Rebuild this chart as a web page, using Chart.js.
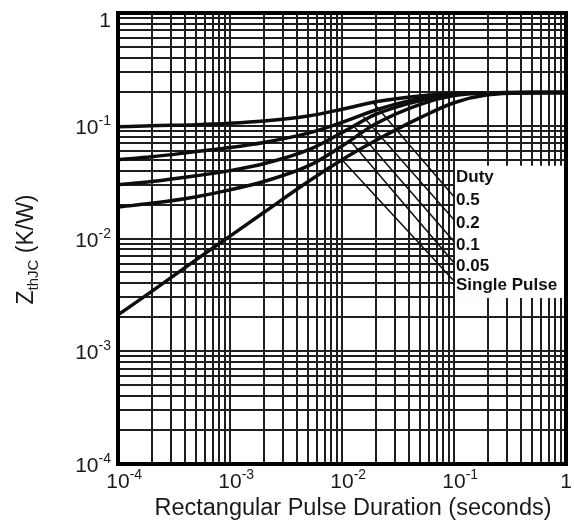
<!DOCTYPE html>
<html>
<head>
<meta charset="utf-8">
<script src="https://cdn.jsdelivr.net/npm/chart.js@4.4.1/dist/chart.umd.min.js"></script>
<style>
  html, body { margin: 0; padding: 0; background: #fff; }
  #wrap { width: 574px; height: 526px; }
</style>
</head>
<body>
<div id="wrap"><canvas id="zthChart"></canvas></div>
<script>
// 脉冲宽度 (s)
const pulseTimes = [1e-4, 2e-4, 5e-4, 1e-3, 2e-3, 5e-3, 1e-2, 2e-2, 5e-2, 1e-1, 2e-1, 5e-1, 1];

// Zth(JC) 各占空比曲线 (K/W)
const zthD05    = [0.098, 0.100, 0.102, 0.105, 0.110, 0.122, 0.140, 0.163, 0.184, 0.193, 0.196, 0.197, 0.197];
const zthD02    = [0.050, 0.053, 0.059, 0.064, 0.071, 0.086, 0.107, 0.138, 0.175, 0.191, 0.196, 0.197, 0.197];
const zthD01    = [0.030, 0.032, 0.036, 0.040, 0.046, 0.061, 0.087, 0.126, 0.167, 0.189, 0.196, 0.197, 0.197];
const zthD005   = [0.019, 0.0205, 0.0235, 0.027, 0.032, 0.044, 0.066, 0.104, 0.155, 0.185, 0.195, 0.197, 0.197];
const zthSingle = [0.0021, 0.0034, 0.0065, 0.0105, 0.017, 0.032, 0.050, 0.074, 0.118, 0.160, 0.188, 0.196, 0.197];

const legendTitle = 'Duty';
const dutyLabels = ['0.5', '0.2', '0.1', '0.05', 'Single Pulse'];

// 引线：曲线上的起点 → 标签旁的终点
const leaderStartX = [0.019, 0.0155, 0.013, 0.0118, 0.010];
const leaderStartY = [0.160, 0.120, 0.097, 0.074, 0.050];
const leaderEndX   = [0.1, 0.1, 0.1, 0.1, 0.1];
const leaderEndY   = [0.0235, 0.0147, 0.0094, 0.0061, 0.0042];

// 坐标轴刻度
const xDecades = [1e-4, 1e-3, 1e-2, 1e-1, 1];
const xTickExps = ['-4', '-3', '-2', '-1', ''];
const yDecades = [1e-4, 1e-3, 1e-2, 1e-1, 1];
const yTickExps = ['-4', '-3', '-2', '-1', ''];
const minorSteps = [1, 2, 3, 4, 5, 6, 7, 8, 9];

const xTitle = 'Rectangular Pulse Duration (seconds)';

const FONT = '"Liberation Sans", Arial, sans-serif';

function gridValues(decades) {
    const vals = [];
    for (let i = 0; i < decades.length - 1; i++) {
        minorSteps.forEach(m => vals.push(decades[i] * m));
    }
    vals.push(decades[decades.length - 1]);
    return vals;
}

function toPoints(xs, ys) {
    return xs.map((x, i) => ({ x: x, y: ys[i] }));
}

const curveSets = [zthD05, zthD02, zthD01, zthD005, zthSingle].map(vals => ({
    data: toPoints(pulseTimes, vals),
    borderColor: '#0d0d0d',
    borderWidth: 3.5,
    pointRadius: 0,
    cubicInterpolationMode: 'monotone',
    fill: false
}));

const leaderSets = leaderStartX.map((x0, i) => ({
    data: [{ x: x0, y: leaderStartY[i] }, { x: leaderEndX[i], y: leaderEndY[i] }],
    borderColor: '#0d0d0d',
    borderWidth: 1.5,
    pointRadius: 0,
    fill: false
}));

// 画 10^n 形式的刻度文字
function drawPower(ctx, x, baseline, exp, align) {
    const mainFont = '21px ' + FONT;
    const supFont = '14px ' + FONT;
    ctx.textBaseline = 'alphabetic';
    ctx.textAlign = 'left';
    if (!exp) {
        ctx.font = mainFont;
        const w = ctx.measureText('1').width;
        const left = align === 'center' ? x - w / 2 : x - w;
        ctx.fillText('1', left, baseline);
        return;
    }
    ctx.font = mainFont;
    const w10 = ctx.measureText('10').width;
    ctx.font = supFont;
    const wSup = ctx.measureText(exp).width;
    const left = align === 'center' ? x - w10 / 2 : x - w10 - wSup;
    ctx.font = mainFont;
    ctx.fillText('10', left, baseline);
    ctx.font = supFont;
    ctx.fillText(exp, left + w10, baseline - 9);
}

const legendPlugin = {
    id: 'dutyLegend',
    afterDatasetsDraw(chart) {
        const { ctx, scales } = chart;
        const xs = scales.x, ys = scales.y;
        const left = xs.getPixelForValue(leaderEndX[0]);
        const rows = leaderEndY.map(v => ys.getPixelForValue(v) + 4);
        const rowGap = rows[1] - rows[0];
        const titleY = rows[0] - rowGap;
        ctx.save();
        ctx.fillStyle = '#fff';
        ctx.fillRect(left + 1, titleY - 12, chart.chartArea.right - left - 3, rows[rows.length - 1] - titleY + 25);
        ctx.fillStyle = '#111';
        ctx.font = 'bold 17px ' + FONT;
        ctx.textAlign = 'left';
        ctx.textBaseline = 'middle';
        ctx.fillText(legendTitle, left + 2, titleY);
        dutyLabels.forEach((t, i) => ctx.fillText(t, left + 2, rows[i]));
        ctx.restore();
    },
    afterDraw(chart) {
        const { ctx, chartArea, scales } = chart;
        ctx.save();
        ctx.strokeStyle = '#000';
        ctx.lineWidth = 4;
        ctx.strokeRect(chartArea.left, chartArea.top, chartArea.right - chartArea.left, chartArea.bottom - chartArea.top);

        ctx.fillStyle = '#1a1a1a';
        xDecades.forEach((v, i) => {
            drawPower(ctx, scales.x.getPixelForValue(v), chartArea.bottom + 24, xTickExps[i], 'center');
        });
        yDecades.forEach((v, i) => {
            const py = scales.y.getPixelForValue(v);
            const base = Math.max(py + 8, 27);
            drawPower(ctx, chartArea.left - 7, base, yTickExps[i], 'right');
        });

        // x 轴标题
        ctx.font = '23.5px ' + FONT;
        ctx.textAlign = 'center';
        ctx.textBaseline = 'alphabetic';
        ctx.fillText(xTitle, (chartArea.left + chartArea.right) / 2 + 11, chartArea.bottom + 51);

        // y 轴标题 Z_thJC (K/W)
        const parts = [
            { t: 'Z', font: '23px ' + FONT, dy: 0 },
            { t: 'thJC', font: '15px ' + FONT, dy: 5 },
            { t: ' (K/W)', font: '23px ' + FONT, dy: 0 }
        ];
        let total = 0;
        parts.forEach(p => { ctx.font = p.font; p.w = ctx.measureText(p.t).width; total += p.w; });
        ctx.translate(33, (chartArea.top + chartArea.bottom) / 2 + 11);
        ctx.rotate(-Math.PI / 2);
        ctx.textAlign = 'left';
        let cx = -total / 2;
        parts.forEach(p => {
            ctx.font = p.font;
            ctx.fillText(p.t, cx, p.dy);
            cx += p.w;
        });
        ctx.restore();
    }
};

function logAxis(decades) {
    return {
        type: 'logarithmic',
        min: decades[0],
        max: decades[decades.length - 1],
        ticks: { display: false },
        grid: { color: '#1f1f1f', lineWidth: 2, drawTicks: false },
        border: { display: false },
        afterBuildTicks: (scale) => {
            scale.ticks = gridValues(decades).map(v => ({ value: v }));
        }
    };
}

new Chart(document.getElementById('zthChart').getContext('2d'), {
    type: 'line',
    data: { datasets: [...curveSets, ...leaderSets] },
    options: {
        responsive: true,
        maintainAspectRatio: false,
        animation: false,
        layout: { padding: { left: 118, right: 8, top: 13, bottom: 62 } },
        plugins: {
            legend: { display: false },
            tooltip: { enabled: false }
        },
        scales: {
            x: logAxis(xDecades),
            y: logAxis(yDecades)
        }
    },
    plugins: [legendPlugin]
});
</script>
</body>
</html>
